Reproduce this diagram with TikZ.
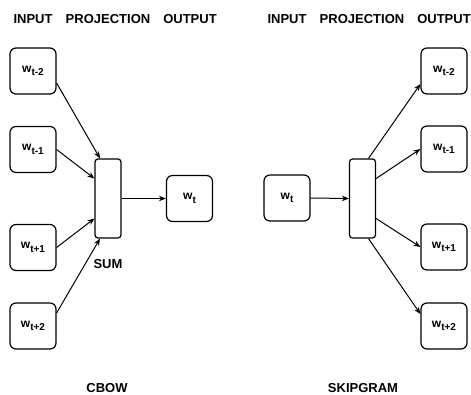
\documentclass[tikz,border=0pt]{standalone}
\usepackage{fontspec}
\setmainfont{Liberation Sans}
\usetikzlibrary{arrows.meta}
\newcommand{\wlab}[1]{w\raisebox{-3.5pt}{\fontsize{10}{10}\selectfont #1}}
\begin{document}
\begin{tikzpicture}[x=1pt, y=-1pt, font=\bfseries\fontsize{13}{15}\selectfont,
    wordbox/.style={draw, line width=1.2pt, rounded corners=6pt, minimum width=46pt, minimum height=46pt, inner sep=0pt, font=\bfseries\fontsize{12}{14}\selectfont},
    projbar/.style={draw, line width=1.2pt, rounded corners=3pt, minimum width=26pt, minimum height=79pt, inner sep=0pt},
    link/.style={line width=1pt, -{Stealth[length=7pt, width=5.5pt]}}]
    \useasboundingbox (0,0) rectangle (471,394);
    % CBOW
    \node (hin) at (33, 19) {INPUT};
    \node (hproj) at (108, 19) {PROJECTION};
    \node (hout) at (190, 19) {OUTPUT};
    \node[wordbox] (in1) at (33, 71) {\wlab{t-2}};
    \node[wordbox] (in2) at (33, 149.5) {\wlab{t-1}};
    \node[wordbox] (in3) at (33, 247.5) {\wlab{t+1}};
    \node[wordbox] (in4) at (33, 326) {\wlab{t+2}};
    \node[projbar] (bar) at (108, 198.5) {};
    \node[wordbox] (out) at (189.5, 198.5) {\wlab{t}};
    \node (sum) at (108, 264) {SUM};
    \node (cbow) at (107, 388) {CBOW};
    \draw[link] ([yshift=-12pt]in1.east) -- ([xshift=-8pt]bar.north);
    \draw[link] (in2.east) -- ([yshift=20pt]bar.west);
    \draw[link] (in3.east) -- ([yshift=-20pt]bar.west);
    \draw[link] ([yshift=13pt]in4.east) -- ([xshift=-8pt]bar.south);
    \draw[link] (bar.east) -- (out.west);
    % SKIPGRAM
    \node (rhin) at (287, 19) {INPUT};
    \node (rhproj) at (362, 19) {PROJECTION};
    \node (rhout) at (444, 19) {OUTPUT};
    \node[wordbox] (rin) at (287, 198) {\wlab{t}};
    \node[projbar] (rbar) at (362.5, 198.5) {};
    \node[wordbox] (rout1) at (444, 71) {\wlab{t-2}};
    \node[wordbox] (rout2) at (444, 149) {\wlab{t-1}};
    \node[wordbox] (rout3) at (444, 247) {\wlab{t+1}};
    \node[wordbox] (rout4) at (444, 326) {\wlab{t+2}};
    \node (skip) at (363, 388) {SKIPGRAM};
    \draw[link] (rin.east) -- (rbar.west);
    \draw[link] ([xshift=6pt]rbar.north) -- ([yshift=-13pt]rout1.west);
    \draw[link] ([yshift=20pt]rbar.east) -- (rout2.west);
    \draw[link] ([yshift=-20pt]rbar.east) -- (rout3.west);
    \draw[link] ([xshift=6pt]rbar.south) -- ([yshift=12pt]rout4.west);
\end{tikzpicture}
\end{document}
